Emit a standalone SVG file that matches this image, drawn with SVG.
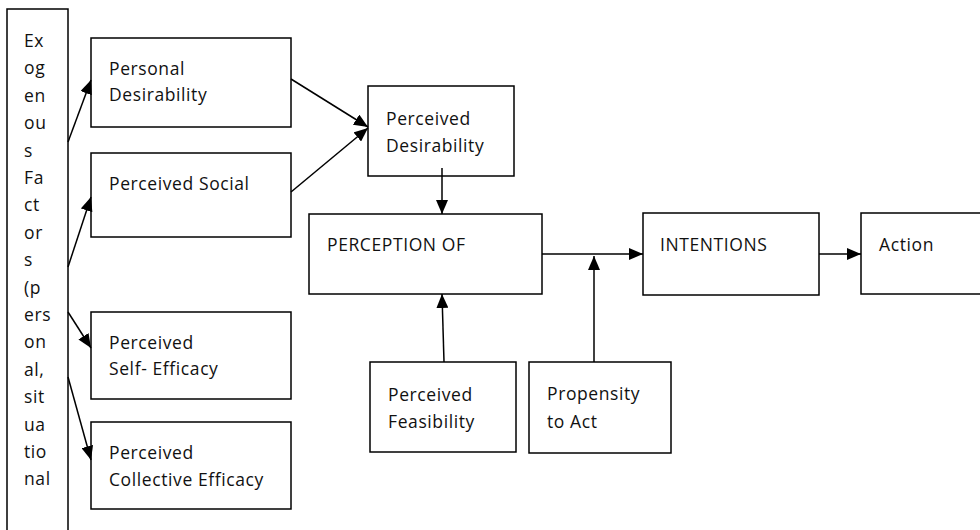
<svg xmlns="http://www.w3.org/2000/svg" width="980" height="530" viewBox="0 0 980 530">
<style>
.box{fill:#fff;stroke:#000;stroke-width:1.5}
.t{font-family:"Open Sans","Liberation Sans",sans-serif;font-size:17.5px;letter-spacing:0.6px;fill:#111}
.e{stroke:#000;stroke-width:1.5;fill:none;marker-end:url(#ah)}
</style>
<defs>
<marker id="ah" markerUnits="userSpaceOnUse" markerWidth="14" markerHeight="12" viewBox="0 0 14 12" refX="14" refY="6" orient="auto">
<path d="M0,0 L14,6 L0,12 Z" fill="#000"/>
</marker>
</defs>
<rect width="980" height="530" fill="#fff"/>
<g id="exogenous">
<rect class="box" x="7" y="9" width="61" height="530"/>
<text class="t" x="24" y="47">Ex</text>
<text class="t" x="24" y="74.4">og</text>
<text class="t" x="24" y="101.8">en</text>
<text class="t" x="24" y="129.2">ou</text>
<text class="t" x="24" y="156.6">s</text>
<text class="t" x="24" y="184">Fa</text>
<text class="t" x="24" y="211.4">ct</text>
<text class="t" x="24" y="238.8">or</text>
<text class="t" x="24" y="266.2">s</text>
<text class="t" x="24" y="293.6">(p</text>
<text class="t" x="24" y="321">ers</text>
<text class="t" x="24" y="348.4">on</text>
<text class="t" x="24" y="375.8">al,</text>
<text class="t" x="24" y="403.2">sit</text>
<text class="t" x="24" y="430.6">ua</text>
<text class="t" x="24" y="458">tio</text>
<text class="t" x="24" y="485.4">nal</text>
</g>
<g id="personal-desirability">
<rect class="box" x="91" y="38" width="200" height="89"/>
<text class="t" x="109" y="75">Personal</text>
<text class="t" x="109" y="101">Desirability</text>
</g>
<g id="perceived-social">
<rect class="box" x="91" y="153" width="200" height="84"/>
<text class="t" x="109" y="190">Perceived Social</text>
</g>
<g id="self-efficacy">
<rect class="box" x="91" y="312" width="200" height="87"/>
<text class="t" x="109" y="349">Perceived</text>
<text class="t" x="109" y="375">Self- Efficacy</text>
</g>
<g id="collective-efficacy">
<rect class="box" x="91" y="422" width="200" height="87"/>
<text class="t" x="109" y="459">Perceived</text>
<text class="t" x="109" y="486">Collective Efficacy</text>
</g>
<g id="perceived-desirability">
<rect class="box" x="368" y="86" width="146" height="90"/>
<text class="t" x="386" y="125">Perceived</text>
<text class="t" x="386" y="151.5">Desirability</text>
</g>
<g id="perception">
<rect class="box" x="309" y="214" width="233" height="80"/>
<text class="t" x="327" y="251">PERCEPTION OF</text>
</g>
<g id="intentions">
<rect class="box" x="643" y="213" width="176" height="82"/>
<text class="t" x="660" y="251">INTENTIONS</text>
</g>
<g id="action">
<rect class="box" x="861" y="213" width="130" height="81"/>
<text class="t" x="879" y="251">Action</text>
</g>
<g id="perceived-feasibility">
<rect class="box" x="370" y="362" width="146" height="90"/>
<text class="t" x="388" y="400.5">Perceived</text>
<text class="t" x="388" y="427.5">Feasibility</text>
</g>
<g id="propensity">
<rect class="box" x="529" y="362" width="142" height="91"/>
<text class="t" x="547" y="400">Propensity</text>
<text class="t" x="547" y="427.5">to Act</text>
</g>
<g id="connectors">
<path class="e" d="M68,142 L91,80"/>
<path class="e" d="M68,267 L91,197"/>
<path class="e" d="M68,312 L91,348"/>
<path class="e" d="M68,377 L91,460"/>
<path class="e" d="M291,79 L368,127"/>
<path class="e" d="M291,192 L368,128"/>
<path class="e" d="M442,168 L442,214"/>
<path class="e" d="M444,362 L442,294"/>
<path class="e" d="M542,254 L643,254"/>
<path class="e" d="M594,362 L594,256"/>
<path class="e" d="M819,254 L861,254"/>
</g>
</svg>
